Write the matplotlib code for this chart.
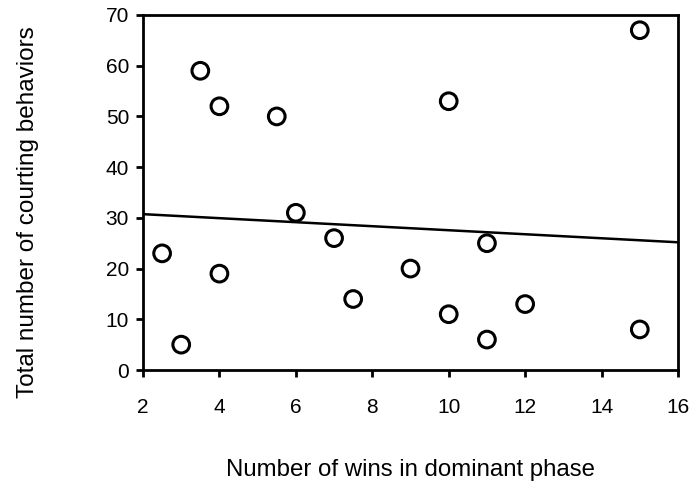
import numpy as np
import matplotlib
matplotlib.use('Agg')
import matplotlib.pyplot as plt

# wins in dominant phase vs. total courting behaviors, one point per male
wins = [2.5, 3, 3.5, 4, 4, 5.5, 6, 7, 7.5, 9, 10, 10, 11, 11, 12, 15, 15]
courting = [23, 5, 59, 52, 19, 50, 31, 26, 14, 20, 53, 11, 25, 6, 13, 67, 8]

x_ticks = [2, 4, 6, 8, 10, 12, 14, 16]
y_ticks = [0, 10, 20, 30, 40, 50, 60, 70]

plt.rcParams['font.family'] = ['Liberation Sans', 'DejaVu Sans']

fig = plt.figure(figsize=(6.96, 4.87), dpi=100)
ax = fig.add_axes([143 / 696, 1 - 370 / 487, 535 / 696, 355 / 487])

ax.scatter(wins, courting, s=12 ** 2, facecolors='none', edgecolors='black',
           linewidths=2.2, zorder=3)

# least-squares fit across the full x range
slope, intercept = np.polyfit(wins, courting, 1)
xs = np.array([x_ticks[0], x_ticks[-1]])
ax.plot(xs, intercept + slope * xs, color='black', linewidth=1.8, zorder=2)

ax.set_xlim(x_ticks[0], x_ticks[-1])
ax.set_ylim(y_ticks[0], y_ticks[-1])
ax.set_xticks(x_ticks)
ax.set_yticks(y_ticks)

for sp in ax.spines.values():
    sp.set_linewidth(2.0)
ax.tick_params(axis='both', direction='out', length=5, width=2.0, labelsize=15)
ax.tick_params(axis='x', pad=15)
ax.tick_params(axis='y', pad=5)

ax.set_xlabel('Number of wins in dominant phase', fontsize=17.3)
ax.set_ylabel('Total number of courting behaviors', fontsize=17.5)
ax.xaxis.set_label_coords(0.5, -0.282)
ax.yaxis.set_label_coords(-0.215, 0.445)
ax.xaxis.label.set_va('center')
ax.yaxis.label.set_va('center')

fig.savefig('out.png', dpi=100)
